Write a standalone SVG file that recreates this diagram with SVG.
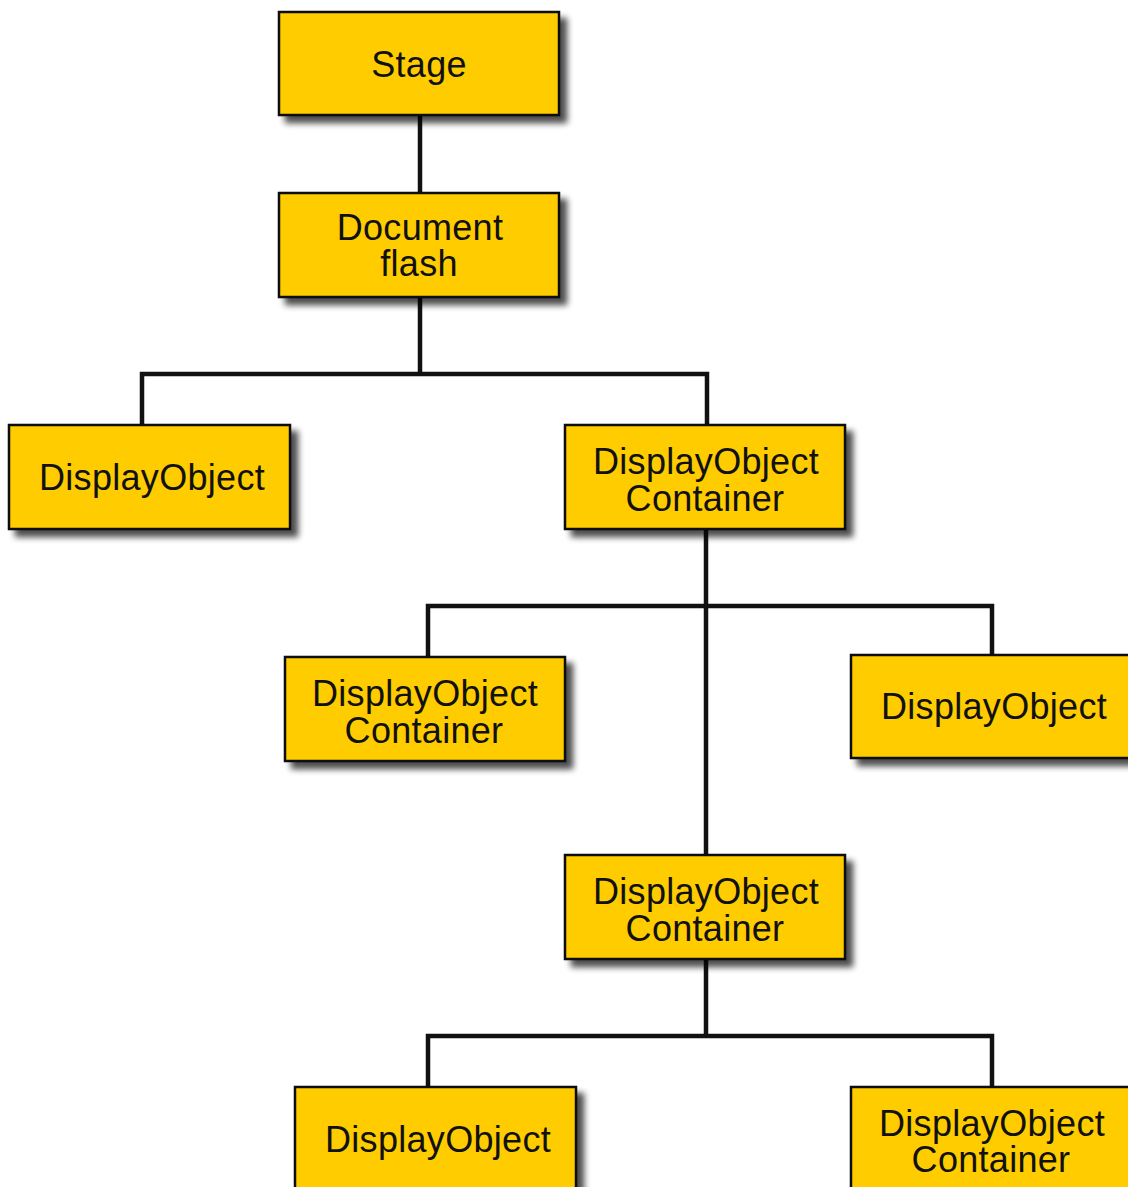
<svg xmlns="http://www.w3.org/2000/svg" width="1128" height="1187" viewBox="0 0 1128 1187">
<defs>
<filter id="sh" x="-10%" y="-10%" width="130%" height="140%">
<feGaussianBlur in="SourceAlpha" stdDeviation="3"/>
<feOffset dx="7" dy="7" result="b"/>
<feComponentTransfer><feFuncA type="linear" slope="0.7"/></feComponentTransfer>
<feMerge><feMergeNode/><feMergeNode in="SourceGraphic"/></feMerge>
</filter>
</defs>
<style>
.box{fill:#FFCC00;stroke:#111;stroke-width:2.5;filter:url(#sh)}
.t{font-family:"Liberation Sans",Arial,sans-serif;font-size:36px;fill:#111;text-anchor:middle;letter-spacing:0.3px}
.c{fill:none;stroke:#111;stroke-width:4.5;stroke-linejoin:miter}
</style>
<rect width="1128" height="1187" fill="#fff"/>
<g id="connectors">
<path class="c" d="M420 115V193"/>
<path class="c" d="M420 297V374H142V425M420 374H707V425"/>
<path class="c" d="M706 529V855M706 606H428V657M706 606H992V655"/>
<path class="c" d="M706 959V1036H428V1087M706 1036H992V1087"/>
</g>
<g id="stage"><rect class="box" x="279" y="12" width="280" height="103"/><text class="t" x="419" y="77">Stage</text></g>
<g id="document"><rect class="box" x="279" y="193" width="280" height="104"/><text class="t" x="420" y="240">Document</text><text class="t" x="419" y="276">flash</text></g>
<g id="do1"><rect class="box" x="9" y="425" width="281" height="104"/><text class="t" x="152" y="490">DisplayObject</text></g>
<g id="doc1"><rect class="box" x="565" y="425" width="280" height="104"/><text class="t" x="706" y="474">DisplayObject</text><text class="t" x="705" y="511">Container</text></g>
<g id="doc2"><rect class="box" x="285" y="657" width="280" height="104"/><text class="t" x="425" y="706">DisplayObject</text><text class="t" x="424" y="743">Container</text></g>
<g id="do2"><rect class="box" x="851" y="655" width="282" height="103"/><text class="t" x="994" y="719">DisplayObject</text></g>
<g id="doc3"><rect class="box" x="565" y="855" width="280" height="104"/><text class="t" x="706" y="904">DisplayObject</text><text class="t" x="705" y="941">Container</text></g>
<g id="do3"><rect class="box" x="295" y="1087" width="281" height="110"/><text class="t" x="438" y="1152">DisplayObject</text></g>
<g id="doc4"><rect class="box" x="851" y="1087" width="282" height="110"/><text class="t" x="992" y="1136">DisplayObject</text><text class="t" x="991" y="1172">Container</text></g>
</svg>
